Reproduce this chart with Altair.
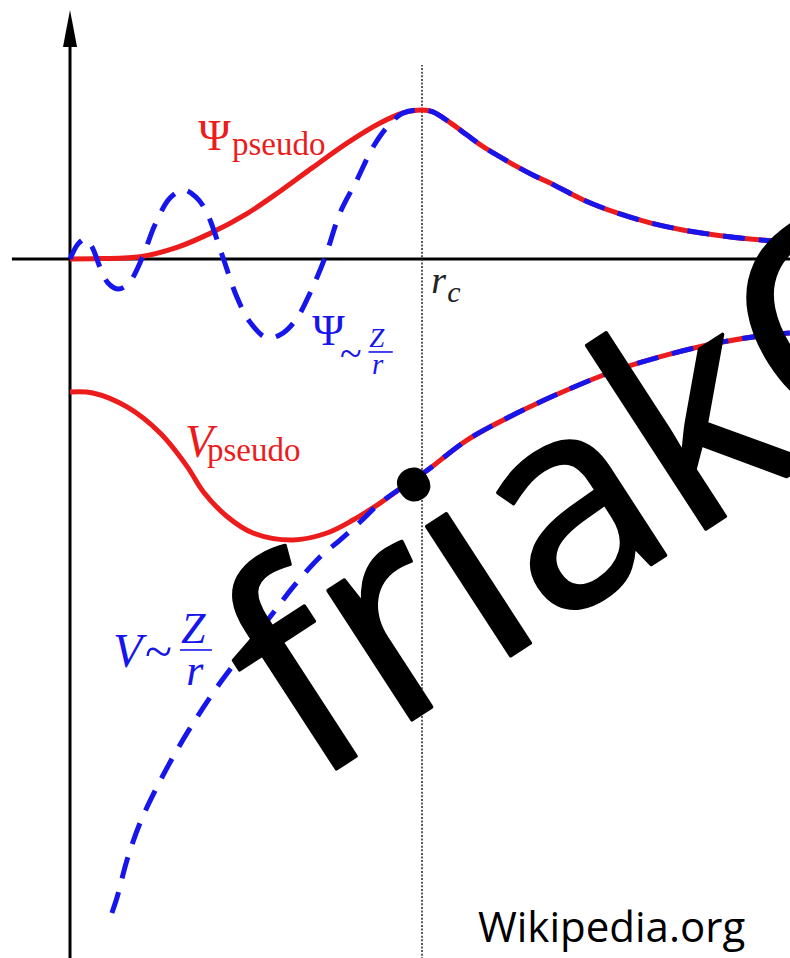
import altair as alt
import pandas as pd

# ---- coordinate frame: r in units of the cutoff radius r_c, values in units of the Psi peak
X_MIN, X_MAX = -0.1989, 2.0455
Y_MIN, Y_MAX = -4.6913, 1.7383

RED = "#ec1c1c"
BLUE = "#1616ec"

# pseudo wavefunction (smooth, nodeless)
psi_pseudo_r = [0.0, 0.085, 0.199, 0.304, 0.398, 0.503, 0.597, 0.690, 0.787, 0.881, 0.946, 1.0,
                1.031, 1.080, 1.128, 1.173, 1.222, 1.270, 1.315, 1.364, 1.457, 1.554, 1.648,
                1.741, 1.838, 1.932, 2.045]
psi_pseudo_v = [0.0, 0.003, 0.015, 0.078, 0.172, 0.305, 0.455, 0.615, 0.778, 0.913, 0.980, 1.0,
                0.987, 0.915, 0.832, 0.755, 0.685, 0.620, 0.564, 0.510, 0.398, 0.309, 0.243,
                0.195, 0.160, 0.134, 0.114]

# all-electron wavefunction inside r_c (oscillating, with nodes)
psi_ae_r = [0.0, 0.023, 0.043, 0.0625, 0.085, 0.108, 0.136, 0.165, 0.205, 0.241, 0.284, 0.321,
            0.358, 0.389, 0.435, 0.474, 0.511, 0.560, 0.605, 0.645, 0.682, 0.724, 0.767, 0.815,
            0.861, 0.901, 0.946]
psi_ae_v = [0.0, 0.101, 0.134, 0.081, -0.054, -0.161, -0.201, -0.168, 0.007, 0.228, 0.409, 0.463,
            0.416, 0.309, 0.007, -0.255, -0.423, -0.530, -0.497, -0.396, -0.228, 0.007, 0.309,
            0.530, 0.752, 0.886, 0.980]

# pseudopotential
v_pseudo_r = [0.0, 0.065, 0.162, 0.256, 0.332, 0.378, 0.446, 0.520, 0.634, 0.730, 0.804, 0.881,
              0.974, 1.014, 1.128, 1.270, 1.412, 1.554, 1.696, 1.838, 1.980, 2.045]
v_pseudo_v = [-0.893, -0.899, -0.993, -1.168, -1.390, -1.560, -1.728, -1.839, -1.886, -1.839,
              -1.752, -1.638, -1.483, -1.420, -1.215, -1.034, -0.879, -0.745, -0.644, -0.564,
              -0.510, -0.497]

# Coulomb-like potential inside the core
v_ae_r = [0.119, 0.134, 0.162, 0.199, 0.247, 0.304, 0.361, 0.426, 0.503, 0.577, 0.634, 0.710,
          0.767, 0.824]
v_ae_v = [-4.389, -4.282, -4.034, -3.785, -3.544, -3.295, -3.074, -2.846, -2.604, -2.376, -2.201,
          -2.000, -1.886, -1.765]

# outside r_c the all-electron curves coincide with the pseudo ones
psi_ae_full_r = psi_ae_r + [r for r in psi_pseudo_r if r >= 1.0]
psi_ae_full_v = psi_ae_v + [v for r, v in zip(psi_pseudo_r, psi_pseudo_v) if r >= 1.0]
v_ae_full_r = v_ae_r + [r for r in v_pseudo_r if r >= 0.88]
v_ae_full_v = v_ae_v + [v for r, v in zip(v_pseudo_r, v_pseudo_v) if r >= 0.88]

# axes and cutoff marker
axis_x_span = [-0.165, 2.06]
axis_y_span = [-4.70, 1.45]
arrow_tip_center = 1.547
cutoff_span = [-4.70, 1.302]

# labels (upright serif)
up_text = ["Ψ", "pseudo", "pseudo", "Ψ", "~", "~"]
up_r = [0.364, 0.460, 0.389, 0.688, 0.767, 0.213]
up_v = [0.732, 0.698, -1.356, -0.577, -0.728, -2.745]
up_size = [44, 33, 33, 44, 40, 50]
up_color = [RED, RED, RED, BLUE, BLUE, BLUE]

# labels (italic serif)
it_text = ["V", "V", "Z", "r", "Z", "r", "r", "c"]
it_r = [0.327, 0.122, 0.850, 0.858, 0.315, 0.330, 1.026, 1.072]
it_v = [-1.329, -2.738, -0.591, -0.775, -2.577, -2.859, -0.228, -0.289]
it_size = [46, 48, 27, 29, 44, 44, 38, 30]
it_color = [RED, BLUE, BLUE, BLUE, BLUE, BLUE, "#222222", "#222222"]

# fraction bars of Z/r
frac_r1 = [0.848, 0.3125]
frac_r2 = [0.917, 0.403]
frac_v = [-0.624, -2.624]

xs = alt.Scale(domain=[X_MIN, X_MAX], nice=False, zero=False)
ys = alt.Scale(domain=[Y_MIN, Y_MAX], nice=False, zero=False)


def X(f="r"):
    return alt.X(f"{f}:Q", scale=xs, axis=None)


def Y(f="v"):
    return alt.Y(f"{f}:Q", scale=ys, axis=None)


def curve(rs, vs):
    return pd.DataFrame({"r": rs, "v": vs})


axes_df = pd.DataFrame({
    "r": [axis_x_span[0], 0.0],
    "r2": [axis_x_span[1], 0.0],
    "v": [0.0, axis_y_span[0]],
    "v2": [0.0, axis_y_span[1]],
})
axes = alt.Chart(axes_df).mark_rule(color="black", strokeWidth=3).encode(
    x=X(), x2="r2:Q", y=Y(), y2="v2:Q")

arrow = alt.Chart(pd.DataFrame({"r": [0.0], "v": [arrow_tip_center]})).mark_point(
    shape="M0,-1L0.38,1L-0.38,1Z", filled=True, size=1369, color="black", opacity=1, strokeWidth=0
).encode(x=X(), y=Y())

cutoff = alt.Chart(pd.DataFrame({"r": [1.0], "v": [cutoff_span[0]], "v2": [cutoff_span[1]]})).mark_rule(
    color="#333333", strokeWidth=1.6, strokeDash=[2, 1.6]
).encode(x=X(), y=Y(), y2="v2:Q")

red_psi = alt.Chart(curve(psi_pseudo_r, psi_pseudo_v)).mark_line(
    color=RED, strokeWidth=5, interpolate="catmull-rom").encode(x=X(), y=Y())
red_v = alt.Chart(curve(v_pseudo_r, v_pseudo_v)).mark_line(
    color=RED, strokeWidth=5, interpolate="catmull-rom").encode(x=X(), y=Y())
blue_psi = alt.Chart(curve(psi_ae_full_r, psi_ae_full_v)).mark_line(
    color=BLUE, strokeWidth=5, strokeDash=[22, 14], strokeCap="butt", interpolate="catmull-rom"
).encode(x=X(), y=Y())
blue_v = alt.Chart(curve(v_ae_full_r, v_ae_full_v)).mark_line(
    color=BLUE, strokeWidth=5, strokeDash=[22, 14], strokeCap="butt", interpolate="catmull-rom"
).encode(x=X(), y=Y())

up_labels = alt.Chart(pd.DataFrame({"t": up_text, "r": up_r, "v": up_v, "s": up_size, "c": up_color})).mark_text(
    align="left", baseline="alphabetic", font="Liberation Serif"
).encode(x=X(), y=Y(), text="t:N", size=alt.Size("s:Q", scale=None),
         color=alt.Color("c:N", scale=None))

it_labels = alt.Chart(pd.DataFrame({"t": it_text, "r": it_r, "v": it_v, "s": it_size, "c": it_color})).mark_text(
    align="left", baseline="alphabetic", font="Liberation Serif", fontStyle="italic"
).encode(x=X(), y=Y(), text="t:N", size=alt.Size("s:Q", scale=None),
         color=alt.Color("c:N", scale=None))

fracs = alt.Chart(pd.DataFrame({"r": frac_r1, "r2": frac_r2, "v": frac_v})).mark_rule(
    color=BLUE, strokeWidth=1.6).encode(x=X(), x2="r2:Q", y=Y())

source = alt.Chart(pd.DataFrame({"t": ["Wikipedia.org"], "r": [1.159], "v": [-4.584]})).mark_text(
    align="left", baseline="alphabetic", font="Open Sans", fontSize=42, color="black"
).encode(x=X(), y=Y(), text="t:N")

stamp = alt.Chart(pd.DataFrame({"t": ["friakO"], "r": [0.682], "v": [-3.537]})).mark_text(
    align="left", baseline="alphabetic", font="Open Sans", fontSize=288, angle=327,
    color="black", stroke="black", strokeWidth=3.5, strokeJoin="round"
).encode(x=X(), y=Y(), text="t:N")

chart = alt.layer(
    axes, arrow, cutoff, red_psi, red_v, blue_psi, blue_v,
    up_labels, it_labels, fracs, source, stamp
).properties(
    width=790, height=958, padding=0, autosize="none", background="white"
).configure_view(stroke=None)

chart.save("out.html", embed_options={"renderer": "svg", "actions": False})
